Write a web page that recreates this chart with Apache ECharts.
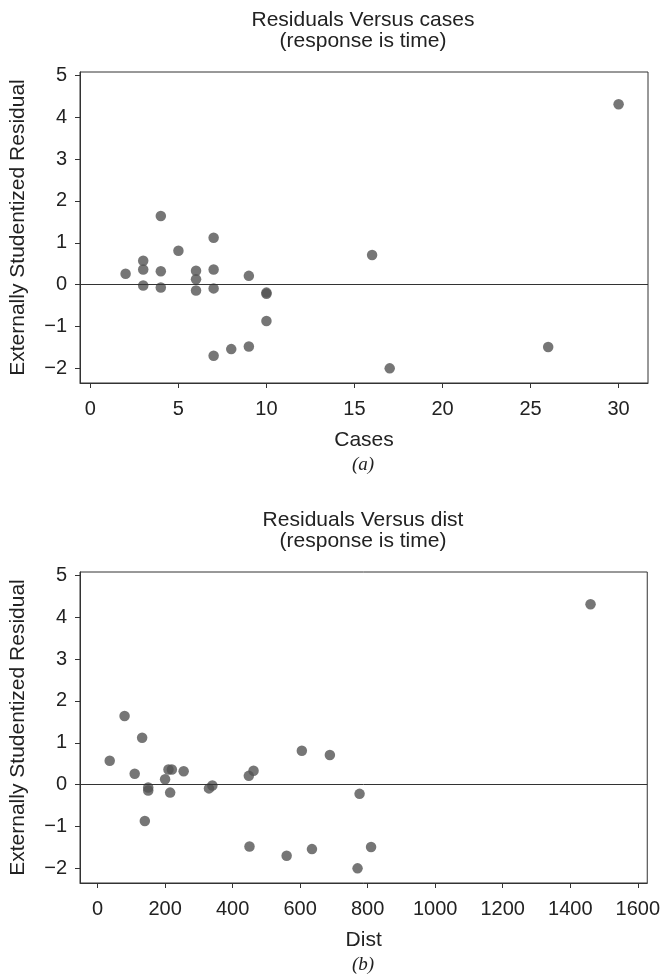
<!DOCTYPE html>
<html>
<head>
<meta charset="utf-8">
<script src="https://cdn.jsdelivr.net/npm/echarts@6/dist/echarts.min.js"></script>
<style>
html,body{margin:0;padding:0;background:#fff;}
#chart{width:663px;height:977px;}
</style>
</head>
<body>
<div id="chart"></div>
<script>
// Delivery data: number of cases, distance, externally studentized residuals
var cases = [7, 3, 3, 4, 6, 7, 2, 7, 30, 5, 16, 10, 4, 6, 9, 10, 6, 7, 3, 17, 10, 26, 9, 8, 4];
var dist = [560, 220, 340, 80, 150, 330, 110, 210, 1460, 605, 688, 215, 255, 462, 448, 776, 200, 132, 36, 770, 140, 810, 450, 635, 150];
var rstudent = [-1.70, 0.36, -0.02, 1.64, -0.14, -0.09, 0.26, 0.36, 4.31, 0.81, 0.71, -0.19, 0.32, 0.33, 0.21, -0.22, 0.13, 1.12, 0.57, -2.00, -0.87, -1.49, -1.48, -1.54, -0.07];

var casesTicks = [0, 5, 10, 15, 20, 25, 30];
var distTicks = [0, 200, 400, 600, 800, 1000, 1200, 1400, 1600];
var residTicks = [-2, -1, 0, 1, 2, 3, 4, 5];

var titleA = ['Residuals Versus cases', '(response is time)'];
var titleB = ['Residuals Versus dist', '(response is time)'];
var xNameA = 'Cases', xNameB = 'Dist';
var yName = 'Externally Studentized Residual';
var panelA = '(a)', panelB = '(b)';

var TXT = '#222';
var FONT = 'Liberation Sans, Arial, Helvetica, sans-serif';

function pairs(xs, ys) {
  return xs.map(function (x, i) { return [x, ys[i]]; });
}
function fmt(v) {
  return String(v).replace('-', '\u2212');
}

function xAxis(idx, min, max, ticks, name) {
  return {
    type: 'value', gridIndex: idx, min: min, max: max,
    name: name, nameLocation: 'middle', nameGap: 47,
    nameTextStyle: {color: TXT, fontSize: 21, fontFamily: FONT},
    axisLine: {show: true, onZero: false, lineStyle: {color: '#333', width: 1}},
    axisTick: {show: true, inside: false, length: 5, customValues: ticks, lineStyle: {color: '#333'}},
    axisLabel: {customValues: ticks, formatter: fmt, color: TXT, fontSize: 20, fontFamily: FONT, margin: 16},
    splitLine: {show: false}
  };
}
function yAxis(idx) {
  return {
    type: 'value', gridIndex: idx, min: -2.35, max: 5.08,
    name: yName, nameLocation: 'middle', nameGap: 51,
    nameTextStyle: {color: TXT, fontSize: 21, fontFamily: FONT},
    axisLine: {show: true, onZero: false, lineStyle: {color: '#333', width: 1}},
    axisTick: {show: true, inside: false, length: 5, customValues: residTicks, lineStyle: {color: '#333'}},
    axisLabel: {customValues: residTicks, formatter: fmt, color: TXT, fontSize: 20, fontFamily: FONT, margin: 13},
    splitLine: {show: false}
  };
}
function scatter(idx, data) {
  return {
    type: 'scatter', xAxisIndex: idx, yAxisIndex: idx, data: data,
    symbol: 'circle', symbolSize: 10.5,
    itemStyle: {color: '#545454'},
    markLine: {
      silent: true, symbol: ['none', 'none'], label: {show: false},
      lineStyle: {color: '#333', width: 1, type: 'solid'},
      data: [{yAxis: 0}]
    }
  };
}
function texts(lines, y0, panel, yPanel) {
  return [
    {type: 'text', x: 363, y: y0, style: {text: lines[0], fill: TXT, font: '21px ' + FONT, textAlign: 'center', textVerticalAlign: 'middle'}},
    {type: 'text', x: 363, y: y0 + 21, style: {text: lines[1], fill: TXT, font: '21px ' + FONT, textAlign: 'center', textVerticalAlign: 'middle'}},
    {type: 'text', x: 363, y: yPanel, style: {text: panel, fill: TXT, font: 'italic 19px Liberation Serif, Times New Roman, serif', textAlign: 'center', textVerticalAlign: 'middle'}}
  ];
}

var chart = echarts.init(document.getElementById('chart'), null, {renderer: 'canvas'});
chart.setOption({
  animation: false,
  backgroundColor: '#fff',
  grid: [
    {left: 77, top: 72, width: 571, height: 311, show: true, borderColor: '#333', borderWidth: 1, backgroundColor: 'transparent'},
    {left: 77, top: 572, width: 571, height: 311, show: true, borderColor: '#333', borderWidth: 1, backgroundColor: 'transparent'}
  ],
  xAxis: [
    xAxis(0, -0.59, 31.67, casesTicks, xNameA),
    xAxis(1, -52, 1628, distTicks, xNameB)
  ],
  yAxis: [yAxis(0), yAxis(1)],
  series: [
    scatter(0, pairs(cases, rstudent)),
    scatter(1, pairs(dist, rstudent))
  ],
  graphic: texts(titleA, 20, panelA, 465).concat(texts(titleB, 520, panelB, 965))
});
</script>
</body>
</html>
